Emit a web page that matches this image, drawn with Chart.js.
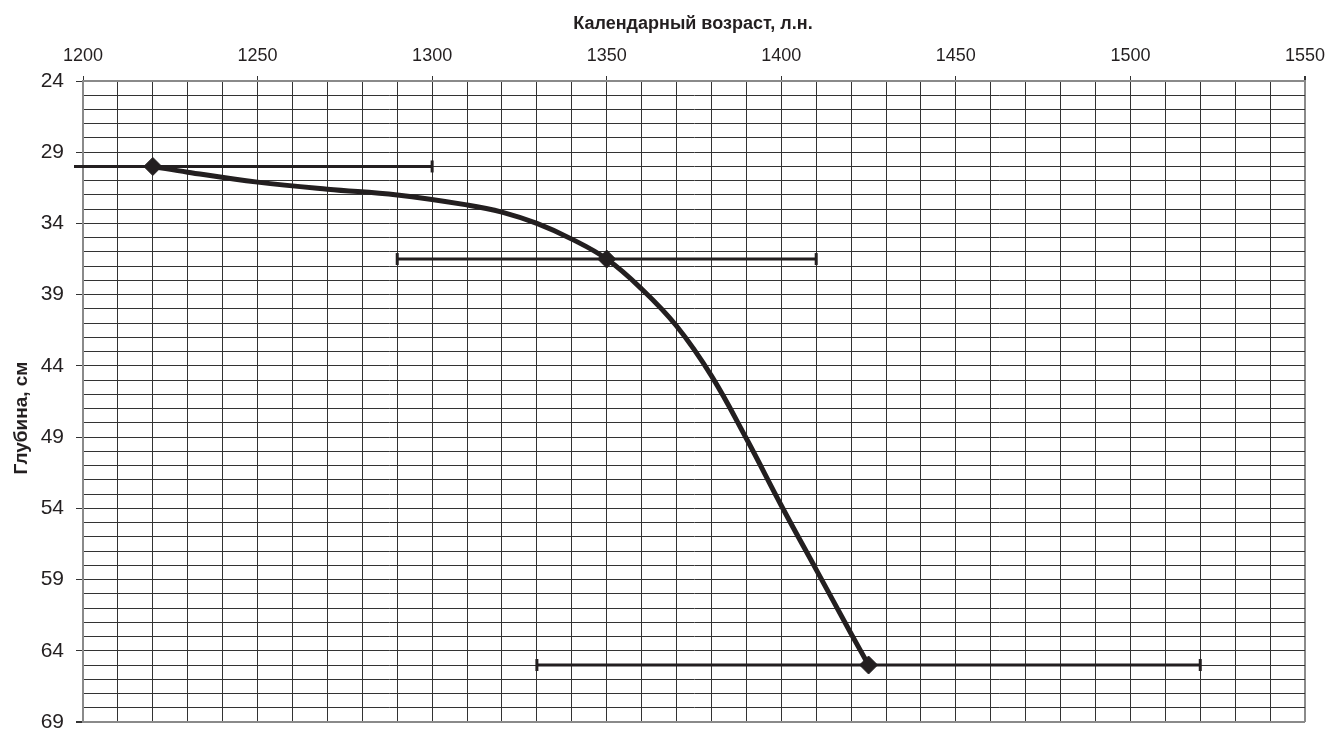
<!DOCTYPE html>
<html>
<head>
<meta charset="utf-8">
<script src="https://cdn.jsdelivr.net/npm/chart.js@4/dist/chart.umd.min.js"></script>
<style>
  html, body { margin: 0; padding: 0; background: #fff; }
  #wrap { width: 1329px; height: 732px; position: relative; }
</style>
</head>
<body>
<div id="wrap"><canvas id="chart"></canvas></div>
<script>
// age-depth model curve (calendar age vs depth)
const curveAge = [1220, 1230, 1250, 1270, 1290, 1310, 1320, 1330, 1340, 1350, 1360, 1370, 1380, 1390, 1400, 1410, 1420, 1425];
const curveDepth = [30, 30.4, 31.1, 31.6, 32.0, 32.7, 33.2, 34.0, 35.1, 36.5, 38.6, 41.2, 44.7, 49.1, 53.8, 58.3, 62.8, 65];

// dated levels with their age ranges
const dateAge = [1220, 1350, 1425];
const dateDepth = [30, 36.5, 65];
const ageFrom = [1140, 1290, 1330];
const ageTo = [1300, 1410, 1520];

const xTitle = "Календарный возраст, л.н.";
const yTitle = "Глубина, см";

const FONT = "'Liberation Sans', Arial, sans-serif";
const INK = "#231f20";

const errorBars = dateAge.map((a, i) => ({
  data: [{ x: ageFrom[i], y: dateDepth[i] }, { x: ageTo[i], y: dateDepth[i] }],
  showLine: true,
  borderColor: INK,
  borderWidth: 3,
  pointStyle: "line",
  rotation: 90,
  pointRadius: 6,
  pointBorderWidth: 3,
  pointBorderColor: INK,
  clip: { left: 9, top: 0, right: 0, bottom: 0 },
  order: 3
}));

const axisTitles = {
  id: "axisTitles",
  afterDraw(chart) {
    const ctx = chart.ctx;
    ctx.save();
    ctx.fillStyle = INK;
    ctx.font = "bold 18px " + FONT;
    ctx.textAlign = "center";
    ctx.textBaseline = "alphabetic";
    ctx.fillText(xTitle, 693, 29);
    ctx.font = "bold 19px " + FONT;
    ctx.textBaseline = "middle";
    ctx.translate(22, 418);
    ctx.rotate(-Math.PI / 2);
    ctx.fillText(yTitle, 0, 0);
    ctx.restore();
  }
};

// fixed axis sizes, no extra room for the end labels
function fitX(s) { s.height = 81; s.paddingLeft = 0; s.paddingRight = 0; }
function fitY(s) { s.width = 83; s.paddingTop = 0; s.paddingBottom = 0; }

new Chart(document.getElementById("chart"), {
  type: "scatter",
  data: {
    datasets: [
      {
        data: curveAge.map((a, i) => ({ x: a, y: curveDepth[i] })),
        showLine: true,
        borderColor: INK,
        borderWidth: 5,
        pointRadius: 0,
        tension: 0.4,
        order: 2
      },
      {
        data: dateAge.map((a, i) => ({ x: a, y: dateDepth[i] })),
        showLine: false,
        pointStyle: "rectRot",
        pointRadius: 9,
        backgroundColor: INK,
        borderColor: INK,
        order: 1
      },
      ...errorBars
    ]
  },
  options: {
    responsive: true,
    maintainAspectRatio: false,
    animation: false,
    layout: { padding: { left: 0, top: 0, right: 24, bottom: 9 } },
    plugins: { legend: { display: false }, tooltip: { enabled: false } },
    scales: {
      x: {
        type: "linear",
        position: "top",
        min: 1200,
        max: 1550,
        afterFit: fitX,
        border: { color: "#8a8a8a", width: 2 },
        grid: {
          color: c => c.tick && c.tick.value === 1550 ? "#8a8a8a" : "#333",
          lineWidth: c => c.tick && c.tick.value === 1550 ? 2 : 1,
          tickLength: 5,
          tickColor: c => c.tick && c.tick.value % 50 === 0 ? "#333" : "rgba(0,0,0,0)"
        },
        ticks: {
          stepSize: 10,
          autoSkip: false,
          maxRotation: 0,
          padding: 9,
          color: INK,
          font: { family: FONT, size: 18 },
          callback: v => v % 50 === 0 ? String(v) : ""
        }
      },
      y: {
        type: "linear",
        reverse: true,
        min: 24,
        max: 69,
        afterFit: fitY,
        border: { color: "#8a8a8a", width: 2 },
        grid: {
          color: c => c.tick && c.tick.value === 69 ? "#8a8a8a" : "#333",
          lineWidth: c => c.tick && c.tick.value === 69 ? 2 : 1,
          tickLength: 7,
          tickColor: c => c.tick && (c.tick.value - 24) % 5 === 0 ? "#333" : "rgba(0,0,0,0)"
        },
        ticks: {
          stepSize: 1,
          autoSkip: false,
          padding: 12,
          color: INK,
          font: { family: FONT, size: 21 },
          callback: v => (v - 24) % 5 === 0 ? String(v) : ""
        }
      }
    }
  },
  plugins: [axisTitles]
});
</script>
</body>
</html>
